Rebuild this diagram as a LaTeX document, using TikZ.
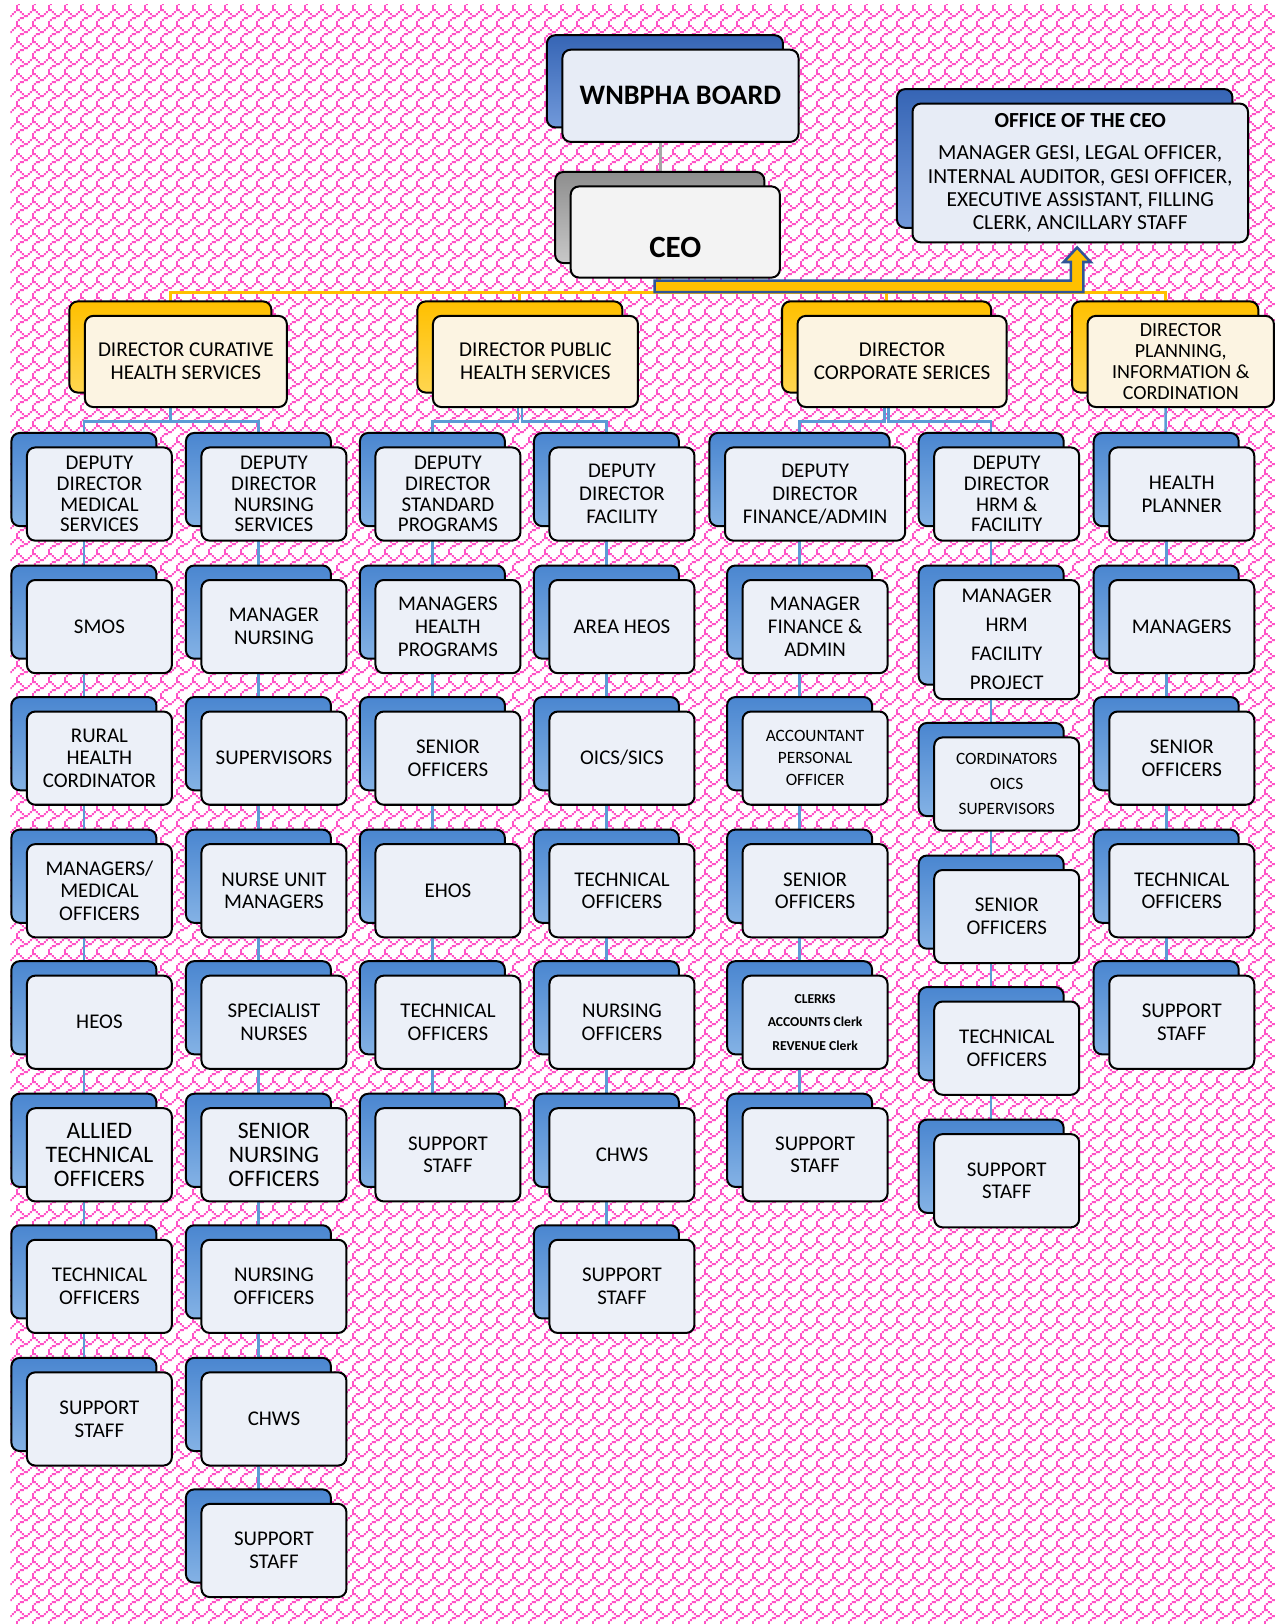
\documentclass[tikz,border=0pt]{standalone}
\usepackage{fontspec}
\setmainfont{Carlito}
\usetikzlibrary{calc,shadows,patterns.meta}

\definecolor{patpink}{HTML}{FF52C6}
\definecolor{bkblue}{HTML}{4A86D0}
\definecolor{bkbluelt}{HTML}{84B2E5}
\definecolor{bkboard}{HTML}{3665B5}
\definecolor{bkboardlt}{HTML}{7199DA}
\definecolor{bkyel}{HTML}{FFC000}
\definecolor{bkyellt}{HTML}{FFD650}
\definecolor{bkgray}{HTML}{8E8E8E}
\definecolor{bkgraylt}{HTML}{C8C8C8}
\definecolor{frontblue}{HTML}{ECF0F8}
\definecolor{frontboard}{HTML}{E7ECF6}
\definecolor{frontcream}{HTML}{FCF4E2}
\definecolor{frontgray}{HTML}{F3F3F3}
\definecolor{linkblue}{HTML}{5B9BD5}
\definecolor{linkyel}{HTML}{FFC000}
\definecolor{linkgray}{HTML}{A6A6A6}
\definecolor{arrowrim}{HTML}{2F5597}

\pgfdeclarelayer{bg}
\pgfdeclarelayer{links}
\pgfsetlayers{bg,links,main}

% shingle fill of the page
\tikzdeclarepattern{
  name=shingle,
  type=uncolored,
  bottom left={(0pt,0pt)},
  top right={(8.75pt,8.75pt)},
  tile size={(8.75pt,8.75pt)},
  code={
    \tikzset{x=1.09375pt,y=1.09375pt}
    \foreach \cx/\cy in {0/7,1/7,2/6,7/6,3/5,6/5,4/4,5/4,2/3,3/3,1/2,0/1,0/0}
      \fill (\cx,\cy) rectangle ++(1,1);
  }
}

\tikzset{
  card/.style={draw=black, line width=1.1pt, rounded corners=0.16cm,
    align=center, inner sep=1pt},
  backbox/.style 2 args={general shadow={top color=#1, bottom color=#2,
    draw=black, line width=1.1pt, shadow xshift=-0.3cm, shadow yshift=0.28cm}},
  unit/.style={card, fill=frontblue, backbox={bkblue}{bkbluelt},
    minimum width=2.8cm, minimum height=1.8cm,
    font=\fontsize{11.5}{12.5}\selectfont},
  tighttext/.style={font=\fontsize{11.5}{11.4}\selectfont},
  bigtext/.style={font=\fontsize{13}{13.2}\selectfont},
  smalltext/.style={font=\fontsize{9.5}{12}\selectfont},
  clerktext/.style={font=\bfseries\fontsize{7.5}{13}\selectfont},
  director/.style={card, fill=frontcream, backbox={bkyel}{bkyellt},
    minimum height=1.76cm, font=\fontsize{11.6}{12.5}\selectfont},
  boardbox/.style={card, fill=frontboard, backbox={bkboard}{bkboardlt},
    minimum width=4.56cm, minimum height=1.78cm,
    font=\bfseries\fontsize{15.5}{18}\selectfont},
  ceobox/.style={card, fill=frontgray, backbox={bkgray}{bkgraylt},
    minimum width=4.04cm, minimum height=1.76cm,
    font=\bfseries\fontsize{17}{20}\selectfont},
  officebox/.style={card, fill=frontboard, backbox={bkboard}{bkboardlt},
    minimum width=6.48cm, minimum height=2.68cm,
    font=\fontsize{11.8}{12.8}\selectfont},
  link/.style={draw=linkblue, line width=1.4pt},
  dirlink/.style={draw=linkyel, line width=1.6pt},
  boardlink/.style={draw=linkgray, line width=1.6pt},
  ceoarrow/.style={fill=linkyel, draw=arrowrim, line width=1.4pt},
}

\begin{document}
\begin{tikzpicture}[x=0.02cm, y=-0.02cm]
  \useasboundingbox (0,0) rectangle (1231,1568);
  \coordinate (dirbar) at (0,282);
  \coordinate (rowbar) at (0,407);

  \begin{pgfonlayer}{bg}
    \fill[white] (0,0) rectangle (1231,1568);
    \fill[pattern=shingle, pattern color=patpink] (10,4) rectangle (1231,1568);
  \end{pgfonlayer}

  % board, ceo and office
  \node[boardbox] (board) at (657,92.5) {WNBPHA BOARD};
  \node[ceobox] (ceo) at (652,224) {\rule{0pt}{1cm}CEO};
  \node[officebox] (office) at (1043,167) {\textbf{OFFICE OF THE CEO}\\[5pt]
    MANAGER GESI, LEGAL OFFICER,\\INTERNAL AUDITOR, GESI OFFICER,\\
    EXECUTIVE ASSISTANT, FILLING\\CLERK, ANCILLARY STAFF};

  % directors
  \node[director, minimum width=3.9cm] (dcur) at (179.5,349) {DIRECTOR CURATIVE\\HEALTH SERVICES};
  \node[director, minimum width=3.96cm] (dpub) at (517,349) {DIRECTOR PUBLIC\\HEALTH SERVICES};
  \node[director, minimum width=4.04cm] (dcor) at (871,349) {DIRECTOR\\CORPORATE SERICES};
  \node[director, minimum width=3.6cm, font=\fontsize{11}{11.4}\selectfont] (dpla) at (1140,349)
    {DIRECTOR\\PLANNING,\\INFORMATION \&\\CORDINATION};

  % curative health services
  \node[unit, tighttext] (a1) at (96,477) {DEPUTY\\DIRECTOR\\MEDICAL\\SERVICES};
  \node[unit] (a2) at (96,605) {SMOS};
  \node[unit] (a3) at (96,732) {RURAL\\HEALTH\\CORDINATOR};
  \node[unit] (a4) at (96,860) {MANAGERS/\\MEDICAL\\OFFICERS};
  \node[unit] (a5) at (96,987) {HEOS};
  \node[unit, bigtext] (a6) at (96,1115) {ALLIED\\TECHNICAL\\OFFICERS};
  \node[unit] (a7) at (96,1242) {TECHNICAL\\OFFICERS};
  \node[unit] (a8) at (96,1370) {SUPPORT\\STAFF};

  \node[unit, tighttext] (b1) at (264.5,477) {DEPUTY\\DIRECTOR\\NURSING\\SERVICES};
  \node[unit] (b2) at (264.5,605) {MANAGER\\NURSING};
  \node[unit] (b3) at (264.5,732) {SUPERVISORS};
  \node[unit] (b4) at (264.5,860) {NURSE UNIT\\MANAGERS};
  \node[unit] (b5) at (264.5,987) {SPECIALIST\\NURSES};
  \node[unit, bigtext] (b6) at (264.5,1115) {SENIOR\\NURSING\\OFFICERS};
  \node[unit] (b7) at (264.5,1242) {NURSING\\OFFICERS};
  \node[unit] (b8) at (264.5,1370) {CHWS};
  \node[unit] (b9) at (264.5,1497) {SUPPORT\\STAFF};

  % public health services
  \node[unit, tighttext] (c1) at (432.5,477) {DEPUTY\\DIRECTOR\\STANDARD\\PROGRAMS};
  \node[unit] (c2) at (432.5,605) {MANAGERS\\HEALTH\\PROGRAMS};
  \node[unit] (c3) at (432.5,732) {SENIOR\\OFFICERS};
  \node[unit] (c4) at (432.5,860) {EHOS};
  \node[unit] (c5) at (432.5,987) {TECHNICAL\\OFFICERS};
  \node[unit] (c6) at (432.5,1115) {SUPPORT\\STAFF};

  \node[unit] (d1) at (600.5,477) {DEPUTY\\DIRECTOR\\FACILITY};
  \node[unit] (d2) at (600.5,605) {AREA HEOS};
  \node[unit] (d3) at (600.5,732) {OICS/SICS};
  \node[unit] (d4) at (600.5,860) {TECHNICAL\\OFFICERS};
  \node[unit] (d5) at (600.5,987) {NURSING\\OFFICERS};
  \node[unit] (d6) at (600.5,1115) {CHWS};
  \node[unit] (d7) at (600.5,1242) {SUPPORT\\STAFF};

  % corporate services
  \node[unit, minimum width=3.48cm] (e1) at (787,477) {DEPUTY\\DIRECTOR\\FINANCE/ADMIN};
  \node[unit] (e2) at (787,605) {MANAGER\\FINANCE \&\\ADMIN};
  \node[unit, smalltext] (e3) at (787,732) {ACCOUNTANT\\PERSONAL\\OFFICER};
  \node[unit] (e4) at (787,860) {SENIOR\\OFFICERS};
  \node[unit, clerktext] (e5) at (787,987) {CLERKS\\ACCOUNTS Clerk\\REVENUE Clerk};
  \node[unit] (e6) at (787,1115) {SUPPORT\\STAFF};

  \node[unit, tighttext] (f1) at (972,477) {DEPUTY\\DIRECTOR\\HRM \&\\FACILITY};
  \node[unit, minimum height=2.3cm, font=\fontsize{11.5}{16}\selectfont] (f2) at (972,617.5)
    {MANAGER\\HRM\\FACILITY\\PROJECT};
  \node[unit, smalltext, font=\fontsize{9.5}{13.7}\selectfont] (f3) at (972,757) {CORDINATORS\\OICS\\SUPERVISORS};
  \node[unit] (f4) at (972,885) {SENIOR\\OFFICERS};
  \node[unit] (f5) at (972,1012) {TECHNICAL\\OFFICERS};
  \node[unit] (f6) at (972,1140) {SUPPORT\\STAFF};

  % planning, information and cordination
  \node[unit] (g1) at (1141,477) {HEALTH\\PLANNER};
  \node[unit] (g2) at (1141,605) {MANAGERS};
  \node[unit] (g3) at (1141,732) {SENIOR\\OFFICERS};
  \node[unit] (g4) at (1141,860) {TECHNICAL\\OFFICERS};
  \node[unit] (g5) at (1141,987) {SUPPORT\\STAFF};

  % connectors behind the boxes
  \begin{pgfonlayer}{links}
    \draw[boardlink] let \p1=($(ceo.center)+(-14,0)$), \p2=(board.center) in (\x1,\y2) -- (\p1);
    \foreach \dir in {dcur,dpub,dcor,dpla}
      \draw[dirlink] let \p1=($(ceo.center)+(-15,0)$), \p2=($(\dir.center)+(-15,0)$), \p3=(dirbar)
        in (\p1) -- (\x1,\y3) -- (\x2,\y3) -- (\p2);
    \foreach \dir/\dep/\off in {dcur/a1/0, dcur/b1/0, dpub/c1/-2, dpub/d1/2, dcor/e1/-2, dcor/f1/2}
      \draw[link] let \p1=($(\dir.center)+(-15+\off,0)$), \p2=($(\dep.center)+(-15,0)$), \p3=(rowbar)
        in (\p1) -- (\x1,\y3) -- (\x2,\y3) -- (\p2);
    \draw[link] ($(dpla.center)+(-15,0)$) -- ($(g1.center)+(-15,0)$);
    \foreach \col/\last in {a/8,b/9,c/6,d/7,e/6,f/6,g/5}
      \draw[link] ($(\col1.center)+(-15,0)$) -- ($(\col\last.center)+(-15,0)$);
  \end{pgfonlayer}

  % block arrow from the ceo to the office
  \coordinate (arrfoot) at ($(ceo.south)+(-20,2)$);
  \coordinate (arrtip) at ($(office.south)+(-3,4)$);
  \draw[ceoarrow] (arrfoot) -- ($(arrfoot -| arrtip)+(-6,0)$) -- ($(arrtip)+(-6,14)$)
    -- ($(arrtip)+(-13,14)$) -- (arrtip) -- ($(arrtip)+(13,14)$) -- ($(arrtip)+(6,14)$)
    -- ($(arrfoot -| arrtip)+(6,11)$) -- ($(arrfoot)+(0,11)$) -- cycle;
\end{tikzpicture}
\end{document}
